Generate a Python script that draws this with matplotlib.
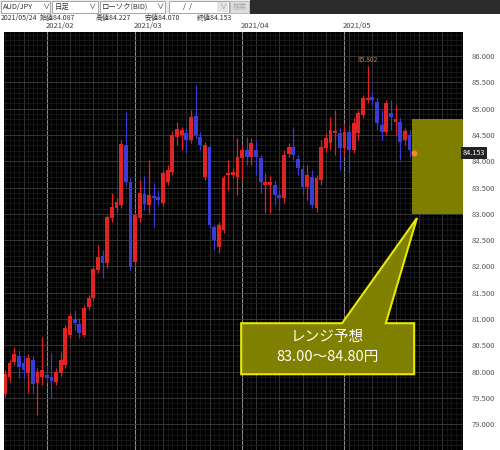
import matplotlib
matplotlib.use("Agg")
import matplotlib.pyplot as plt
from matplotlib.patches import Rectangle, Polygon

plt.rcParams['font.family'] = ['Noto Sans CJK JP', 'DejaVu Sans']

# daily AUD/JPY candles (Jan 19 .. May 24 2021)
opens = [79.57, 79.90, 80.18, 80.30, 80.16, 79.97, 80.22, 79.78, 79.90, 79.94,
         79.90, 79.80, 79.97, 80.13, 80.70, 81.00, 80.90, 80.70, 81.23, 81.40,
         81.93, 82.20, 82.06, 82.92, 83.11, 83.17, 84.31, 83.60, 82.08, 82.92,
         83.38, 83.17, 83.34, 83.32, 83.21, 83.60, 83.79, 84.46, 84.50, 84.54,
         84.40, 84.86, 84.46, 83.70, 84.27, 82.75, 82.37, 82.69, 83.74, 83.74,
         83.70, 84.06, 84.21, 84.08, 84.21, 84.06, 83.55, 83.55, 83.55, 83.36,
         83.30, 84.14, 84.27, 84.04, 83.85, 83.51, 83.70, 83.11, 83.64, 84.25,
         84.35, 84.54, 84.54, 84.25, 84.56, 84.21, 84.54, 84.88, 85.16, 85.22,
         85.12, 84.69, 84.56, 84.92, 84.75, 84.75, 84.40, 84.50, 84.087]
highs = [80.03, 80.22, 80.47, 80.41, 80.30, 80.33, 80.30, 80.07, 80.66, 80.11,
         80.35, 80.07, 80.37, 80.89, 81.11, 81.17, 81.02, 81.27, 81.46, 82.01,
         82.41, 82.31, 82.98, 83.40, 83.30, 84.40, 84.94, 83.68, 83.03, 83.64,
         83.72, 84.02, 83.59, 83.45, 83.83, 83.93, 84.57, 84.75, 84.65, 84.63,
         84.97, 85.45, 84.56, 84.36, 84.31, 82.79, 82.84, 83.74, 84.02, 83.87,
         84.44, 84.31, 84.46, 84.44, 84.40, 84.12, 83.78, 83.72, 83.64, 83.45,
         84.21, 84.35, 84.65, 84.12, 83.93, 83.93, 83.83, 83.74, 84.40, 84.54,
         84.84, 84.97, 84.63, 84.69, 84.69, 84.82, 84.97, 85.26, 85.802, 85.32,
         85.20, 84.97, 85.16, 85.16, 85.07, 84.82, 84.63, 84.59, 84.227]
lows = [79.52, 79.80, 80.13, 79.88, 79.88, 79.59, 79.59, 79.17, 79.75, 79.80,
        79.50, 79.75, 79.92, 80.07, 80.64, 80.79, 80.64, 80.66, 81.17, 81.36,
        81.87, 81.78, 81.97, 82.84, 83.03, 83.11, 83.53, 81.93, 82.03, 82.84,
        83.07, 83.02, 82.75, 83.17, 83.15, 83.55, 83.74, 84.31, 84.21, 84.16,
        84.35, 84.44, 84.21, 83.64, 82.73, 82.31, 82.25, 82.64, 83.45, 83.68,
        83.36, 83.64, 83.93, 83.93, 83.74, 83.40, 83.02, 83.02, 83.17, 83.07,
        83.21, 84.08, 84.02, 83.74, 83.36, 83.26, 83.11, 83.03, 83.55, 84.17,
        84.21, 84.12, 83.83, 84.12, 83.79, 84.16, 84.40, 84.82, 85.11, 85.07,
        84.59, 84.40, 84.50, 84.59, 84.50, 84.02, 84.31, 84.08, 84.070]
closes = [79.95, 80.16, 80.33, 80.09, 80.03, 80.26, 79.76, 79.99, 80.03, 79.88,
          79.82, 79.99, 80.22, 80.83, 81.06, 80.92, 80.73, 81.21, 81.40, 81.95,
          82.18, 82.06, 82.94, 83.13, 83.22, 84.33, 83.60, 81.99, 82.98, 83.40,
          83.19, 83.36, 83.30, 83.26, 83.78, 83.83, 84.50, 84.61, 84.59, 84.40,
          84.84, 84.50, 84.31, 84.31, 82.79, 82.50, 82.79, 83.68, 83.78, 83.79,
          84.08, 84.21, 84.08, 84.35, 84.08, 83.60, 83.60, 83.60, 83.36, 83.30,
          84.12, 84.27, 84.12, 83.87, 83.51, 83.74, 83.17, 83.68, 84.27, 84.44,
          84.59, 84.57, 84.25, 84.56, 84.21, 84.73, 84.92, 85.20, 85.20, 85.16,
          84.73, 84.56, 85.11, 84.84, 84.80, 84.37, 84.57, 84.21, 84.153]

month_labels = ['2021/02', '2021/03', '2021/04', '2021/05']
month_start = [9, 28, 51, 73]
yticks = [79.0, 79.5, 80.0, 80.5, 81.0, 81.5, 82.0, 82.5, 83.0, 83.5,
          84.0, 84.5, 85.0, 85.5, 86.0]
range_low, range_high = 83.00, 84.80
last_date = '2021/05/24'

W, H = 500, 450
fig = plt.figure(figsize=(5, 4.5), dpi=100)
fig.patch.set_facecolor('white')


def fx(x):
    return x / W


def fy(y):
    return 1 - y / H


def box(x0, y0, x1, y1, fc, ec='none', lw=0.6):
    fig.add_artist(Rectangle((fx(x0), fy(y1)), fx(x1 - x0), (y1 - y0) / H,
                             transform=fig.transFigure, facecolor=fc,
                             edgecolor=ec, linewidth=lw))


# top tool bar
box(0, 0, 250, 14, '#ececec')
box(250, 0, 500, 14, '#2b2b2b')
box(1, 1, 50, 13, 'white', '#9a9a9a')
box(52, 1, 98, 13, 'white', '#9a9a9a')
box(100, 1, 165, 13, 'white', '#9a9a9a')
box(169, 1, 229, 13, 'white', '#9a9a9a')
box(217, 2, 228, 12, '#e4e4e4')
box(230, 1, 249, 13, '#dedede', '#b5b5b5')
hdr = dict(fontsize=5.3, va='center', color='#333333')
fig.text(fx(3), fy(7), 'AUD/JPY', **hdr)
fig.text(fx(42), fy(7), '∨', **hdr)
fig.text(fx(55), fy(7), '日足', **hdr)
fig.text(fx(88), fy(7), '∨', **hdr)
fig.text(fx(102), fy(7), 'ローソク(BID)', **hdr)
fig.text(fx(156), fy(7), '∨', **hdr)
fig.text(fx(183), fy(7), '/  /', **hdr)
fig.text(fx(219), fy(7), '∨', fontsize=5.3, va='center', color='#999999')
fig.text(fx(233), fy(7), '検索', fontsize=5.2, va='center', color='#a8a8a8')

info = dict(fontsize=5.0, va='center', color='#333333')
fig.text(fx(1), fy(18), last_date, **info)
fig.text(fx(40), fy(18), '始値%.3f' % opens[-1], **info)
fig.text(fx(96), fy(18), '高値%.3f' % highs[-1], **info)
fig.text(fx(145), fy(18), '安値%.3f' % lows[-1], **info)
fig.text(fx(197), fy(18), '終値%.3f' % closes[-1], **info)

ax = fig.add_axes([fx(4), 0, fx(463 - 4), 1 - 32 / H])
ax.set_facecolor('black')
ax.set_xlim(-0.2, 98.5)
ax.set_ylim(78.51, 86.456)

# grid
for k in range(0, 99):
    ax.axvline(k, color='#1a1a1a', lw=0.5, zorder=0)
for k in range(4, 99, 5):
    ax.axvline(k, color='#3a3a3a', lw=0.6, zorder=0)
for m in month_start:
    ax.axvline(m, color='#8a8a8a', lw=0.8, zorder=0)
v = 78.5
while v < 86.5:
    ax.axhline(v, color='#1f1f1f', lw=0.5, zorder=0)
    v += 0.1
for t in yticks:
    ax.axhline(t, color='#3c3c3c', lw=0.6, zorder=0)

# candles
n = len(opens)
for i in range(n):
    o, h, l, c = opens[i], highs[i], lows[i], closes[i]
    col = '#e02424' if c >= o else '#3b3bd6'
    ax.vlines(i, l, h, color=col, lw=0.9, zorder=3)
    bot = min(o, c)
    ht = max(abs(c - o), 0.03)
    ax.add_patch(Rectangle((i - 0.41, bot), 0.82, ht, facecolor=col,
                           edgecolor='none', zorder=4))

# marker for the current close
ax.plot(n - 1, closes[-1], 'o', color='#f08a2a', ms=3.2, zorder=6)

# high label
imax = highs.index(max(highs))
ax.text(imax, highs[imax] + 0.04, '%.3f' % highs[imax], color='#d0804a',
        fontsize=4.8, ha='center', va='bottom', zorder=6)

# range box
ax.add_patch(Rectangle((87.5, range_low), 98.5 - 87.5, range_high - range_low,
                       facecolor='#858500', edgecolor='none', alpha=0.95,
                       zorder=5))

# callout
x0, x1 = 50.8, 88.0
y0, y1 = 79.95, 80.92
callout = [(x0, y0), (x0, y1), (72.5, y1), (88.6, 82.92), (81.9, y1),
           (x1, y1), (x1, y0)]
ax.add_patch(Polygon(callout, closed=True, facecolor='#808000',
                     edgecolor='#e8e800', lw=1.5, zorder=7))
cx = (x0 + x1) / 2
ax.text(cx, 80.66, 'レンジ予想', color='white', fontsize=10.5,
        ha='center', va='center', zorder=8)
ax.text(cx, 80.27, '%.2f～%.2f円' % (range_low, range_high), color='white',
        fontsize=10.5, ha='center', va='center', zorder=8)

# axes decoration
for s in ax.spines.values():
    s.set_visible(False)
ax.set_xticks([])
ax.yaxis.tick_right()
ax.set_yticks(yticks)
ax.set_yticklabels(['%.3f' % t for t in yticks])
ax.tick_params(axis='y', length=0, pad=6, labelsize=5.5, labelcolor='#555555')

for lab, m in zip(month_labels, month_start):
    ax.text(m - 0.3, 1.004, lab, transform=ax.get_xaxis_transform(),
            fontsize=5.5, color='#444444', ha='left', va='bottom')

# current price tag
ax.text(1.0, closes[-1], '%.3f' % closes[-1], transform=ax.get_yaxis_transform(),
        fontsize=5.2, color='white', ha='left', va='center', clip_on=False,
        bbox=dict(boxstyle='square,pad=0.25', fc='#222222', ec='none'),
        zorder=9)

fig.savefig('out.png', dpi=100)
